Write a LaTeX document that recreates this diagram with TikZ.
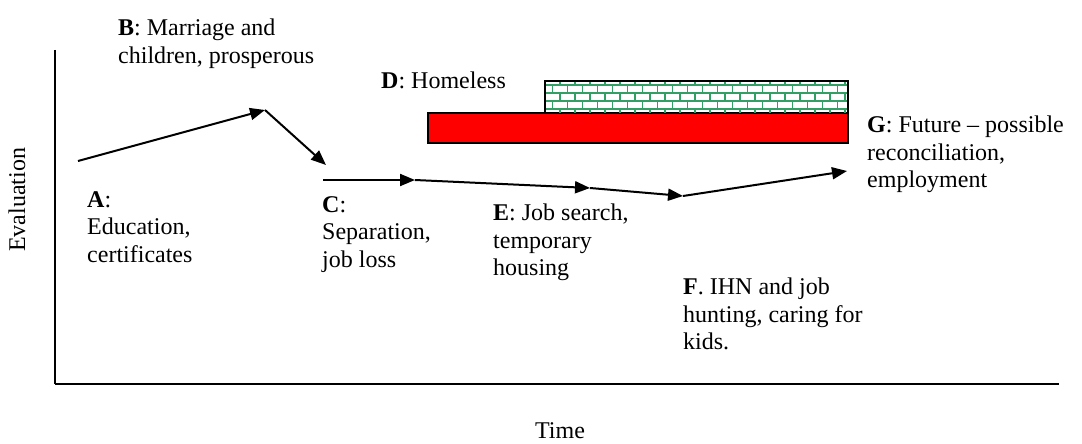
\documentclass[tikz,border=0pt]{standalone}
\usepackage{fontspec}
\setmainfont{Liberation Serif}
\usetikzlibrary{arrows.meta}
\definecolor{brickgreen}{RGB}{50,160,100}
\definecolor{barred}{RGB}{255,0,0}
\begin{document}
\begin{tikzpicture}[x=1pt,y=-1pt,
  lbl/.style={anchor=north west, inner sep=0pt, align=left, font=\fontsize{24}{27.5}\selectfont},
  axlbl/.style={inner sep=0pt, font=\fontsize{24}{27.5}\selectfont},
  flow/.style={line width=2pt, -{Triangle[length=15pt,width=12pt]}},
  box/.style={draw=black, line width=1.5pt},
  mortar/.style={brickgreen, line width=1.3pt},
]
\useasboundingbox (0,0) rectangle (1082,444);

% axes
\coordinate (ytop) at (55,50);
\coordinate (orig) at (55,384);
\coordinate (xend) at (1059,384);
\draw[line width=1.5pt] (ytop) -- (orig);
\draw[line width=2pt] (orig) -- (xend);
\node[axlbl, rotate=90] (evlabel) at (17,200) {Evaluation};
\node[axlbl] (timelabel) at (560,431) {Time};

% homeless period: red bar with brick wall on top
\fill[barred] (428,113) rectangle (848,143);
\draw[box] (428,113) rectangle (848,143);
\begin{scope}
  \clip (545,81) rectangle (848,113);
  \foreach \r in {0,...,3} {
    \pgfmathsetmacro{\yy}{81+8*\r}
    \pgfmathsetmacro{\offa}{mod(\r,2)*7.5}
    \pgfmathsetmacro{\offb}{mod(\r+1,2)*7.5}
    \draw[mortar] (545,\yy+4) -- (848,\yy+4);
    \foreach \k in {0,...,21} {
      \draw[mortar] (545+\offa+15*\k,\yy) -- (545+\offa+15*\k,\yy+4);
      \draw[mortar] (545+\offb+15*\k,\yy+4) -- (545+\offb+15*\k,\yy+8);
    }
  }
\end{scope}
\draw[box] (545,113) -- (545,81) -- (848,81) -- (848,113);

% life course path
\coordinate (pA) at (78,161);
\coordinate (pB) at (265,110);
\coordinate (pBC) at (326,165);
\coordinate (pC) at (323,180);
\coordinate (pE1) at (415,180);
\coordinate (pE2) at (590,188);
\coordinate (pF) at (683,196);
\coordinate (pG) at (847,171);
\draw[flow] (pA) -- (pB);
\draw[flow] (pB) -- (pBC);
\draw[flow] (pC) -- (pE1);
\draw[flow] (pE1) -- (pE2);
\draw[flow] (pE2) -- (pF);
\draw[flow] (pF) -- (pG);

% stage labels
\node[lbl] (labB) at (118,19) {\textbf{B}: Marriage and\\children, prosperous};
\node[lbl] (labD) at (381,72) {\textbf{D}: Homeless};
\node[lbl] (labG) at (867,116) {\textbf{G}: Future – possible\\reconciliation,\\employment};
\node[lbl] (labA) at (87,191) {\textbf{A}:\\Education,\\certificates};
\node[lbl] (labC) at (322,196) {\textbf{C}:\\Separation,\\job loss};
\node[lbl] (labE) at (493,204) {\textbf{E}: Job search,\\temporary\\housing};
\node[lbl] (labF) at (683,278) {\textbf{F}. IHN and job\\hunting, caring for\\kids.};
\end{tikzpicture}
\end{document}
